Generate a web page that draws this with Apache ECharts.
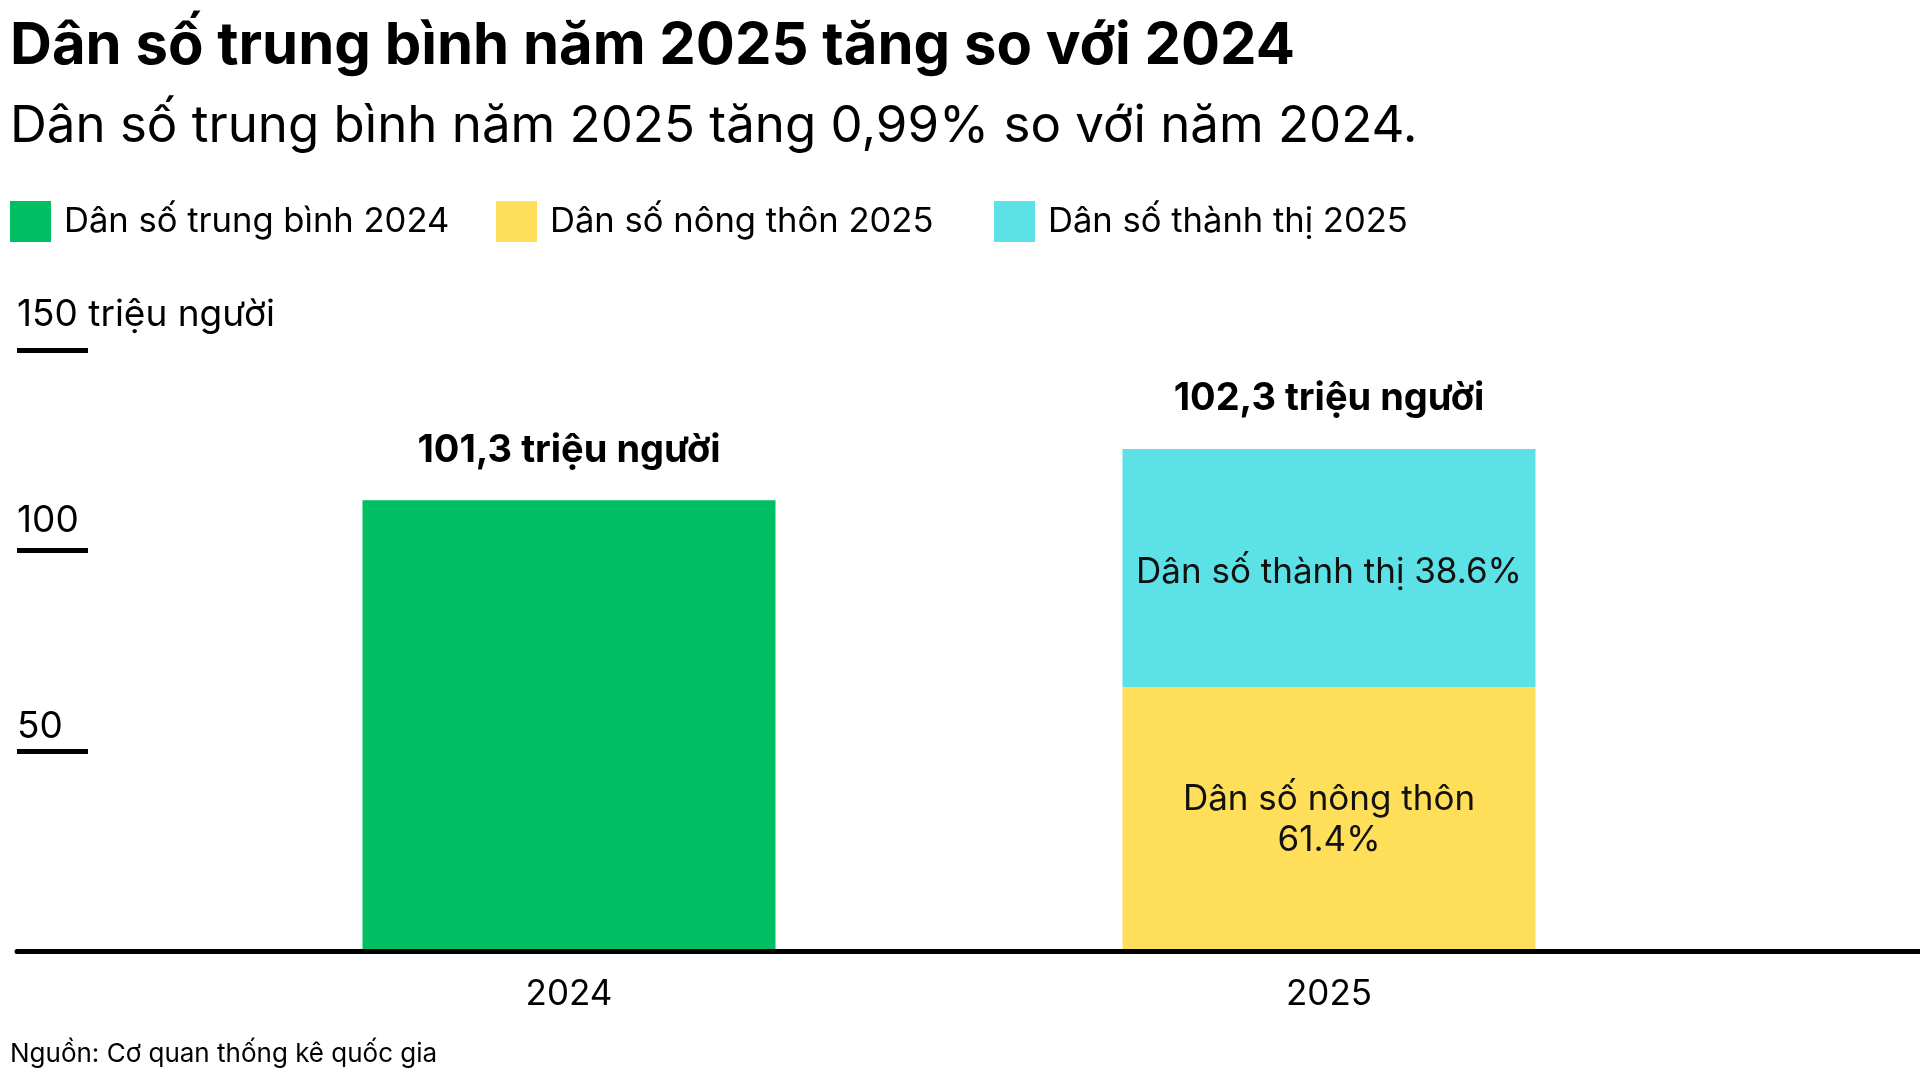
<!DOCTYPE html>
<html>
<head>
<meta charset="utf-8">
<title>Dân số trung bình năm 2025</title>
<script src="https://cdn.jsdelivr.net/npm/echarts@6/dist/echarts.min.js"></script>
<style>
html, body { margin: 0; padding: 0; background: #fff; }
#main { width: 1920px; height: 1080px; }
</style>
</head>
<body>
<div id="main"></div>
<script>
// số liệu
var years = ['2024', '2025'];
var avg2024 = [112.0, '-'];
var rural2025 = ['-', 65.6];
var urban2025 = ['-', 59.1];
var totalLabels = ['101,3 triệu người', '102,3 triệu người'];
var ruralLabel = 'Dân số nông thôn\n61.4%';
var urbanLabel = 'Dân số thành thị 38.6%';
var seriesNames = ['Dân số trung bình 2024', 'Dân số nông thôn 2025', 'Dân số thành thị 2025'];
var yTicks = [0, 50, 100, 150];
var yUnit = 'triệu người';

var FONT = 'Inter';
var colors = ['#00bf63', '#ffde59', '#5ce1e6'];

function legendAt(name, left) {
	return {
		data: [name],
		left: left,
		top: 201,
		padding: 0,
		icon: 'rect',
		itemWidth: 41,
		itemHeight: 41,
		selectedMode: false,
		textStyle: { fontFamily: FONT, fontSize: 34.6, color: '#000', padding: [12, 0, 0, 8] }
	};
}

function topLabel(params) {
	return totalLabels[params.dataIndex];
}

var topLabelStyle = {
	show: true,
	position: 'top',
	distance: 30,
	formatter: topLabel,
	fontFamily: FONT,
	fontWeight: 'bold',
	fontSize: 38,
	lineHeight: 40,
	color: '#000'
};

// nhãn trục tung nằm trên vạch, mỗi mức lệch một chút như bản gốc
var tickLabelRich = {
	t50: { fontFamily: FONT, fontSize: 37, color: '#000', lineHeight: 48 },
	t100: { fontFamily: FONT, fontSize: 37, color: '#000', lineHeight: 60 },
	t150: { fontFamily: FONT, fontSize: 37, color: '#000', lineHeight: 70 }
};

var chart = echarts.init(document.getElementById('main'));
chart.setOption({
	animation: false,
	backgroundColor: '#fff',
	title: [
		{ text: 'Dân số trung bình năm 2025 tăng so với 2024', left: 10, top: 18, padding: 0,
			textStyle: { fontFamily: FONT, fontWeight: 'bold', fontSize: 58, lineHeight: 58, color: '#000' } },
		{ text: 'Dân số trung bình năm 2025 tăng 0,99% so với năm 2024.', left: 10, top: 101, padding: 0,
			textStyle: { fontFamily: FONT, fontWeight: 'normal', fontSize: 51, lineHeight: 51, color: '#000' } },
		{ text: 'Nguồn: Cơ quan thống kê quốc gia', left: 10, top: 1041, padding: 0,
			textStyle: { fontFamily: FONT, fontWeight: 'normal', fontSize: 26, lineHeight: 26, color: '#000' } }
	],
	legend: [
		legendAt(seriesNames[0], 10),
		legendAt(seriesNames[1], 496),
		legendAt(seriesNames[2], 994)
	],
	grid: [
		{ left: 189, right: 211, top: 347, bottom: 128.5 },
		{ left: 17, right: 0, top: 347, bottom: 128.5 },
		{ left: 17, width: 71, top: 350, bottom: 128.5 }
	],
	xAxis: [
		{ gridIndex: 0, type: 'category', data: years,
			axisLine: { show: false }, axisTick: { show: false },
			axisLabel: { fontFamily: FONT, fontSize: 35, lineHeight: 35, color: '#000', margin: 25 } },
		{ gridIndex: 1, type: 'value', z: 10,
			axisLine: { show: true, onZero: false, lineStyle: { color: '#000', width: 5 } },
			axisTick: { show: false }, axisLabel: { show: false }, splitLine: { show: false } },
		{ gridIndex: 2, type: 'value', show: false }
	],
	yAxis: [
		{ gridIndex: 0, type: 'value', min: yTicks[0], max: yTicks[yTicks.length - 1], interval: yTicks[1] - yTicks[0], show: false },
		{ gridIndex: 1, type: 'value', min: yTicks[0], max: yTicks[yTicks.length - 1], show: false },
		{ gridIndex: 2, type: 'value', min: yTicks[0], max: yTicks[yTicks.length - 1], interval: yTicks[1] - yTicks[0],
			axisLine: { show: false }, axisTick: { show: false },
			splitLine: { show: true, lineStyle: { color: '#000', width: 5 } },
			axisLabel: {
				inside: true, margin: 0, fontFamily: FONT, fontSize: 37, color: '#000',
				verticalAlign: 'bottom',
				rich: tickLabelRich,
				formatter: function (v) {
					if (v === 0) return '';
					var txt = v === yTicks[yTicks.length - 1] ? v + ' ' + yUnit : String(v);
					return '{t' + v + '|' + txt + '}';
				}
			} }
	],
	series: [
		{ name: seriesNames[0], type: 'bar', stack: 'pop', barWidth: 413, data: avg2024,
			itemStyle: { color: colors[0] }, label: topLabelStyle },
		{ name: seriesNames[1], type: 'bar', stack: 'pop', barWidth: 413, data: rural2025,
			itemStyle: { color: colors[1] },
			label: { show: true, position: 'inside', offset: [0, 1], formatter: ruralLabel,
				fontFamily: FONT, fontSize: 35, lineHeight: 41, color: '#111' } },
		{ name: seriesNames[2], type: 'bar', stack: 'pop', barWidth: 413, data: urban2025,
			itemStyle: { color: colors[2] },
			label: { show: true, position: 'inside', offset: [0, 4], formatter: urbanLabel,
				fontFamily: FONT, fontSize: 35, lineHeight: 41, color: '#111' } },
		{ name: 'tổng 2025', type: 'bar', stack: 'pop', barWidth: 413, data: ['-', 0], silent: true,
			itemStyle: { color: 'transparent' }, label: topLabelStyle }
	]
});
</script>
</body>
</html>
